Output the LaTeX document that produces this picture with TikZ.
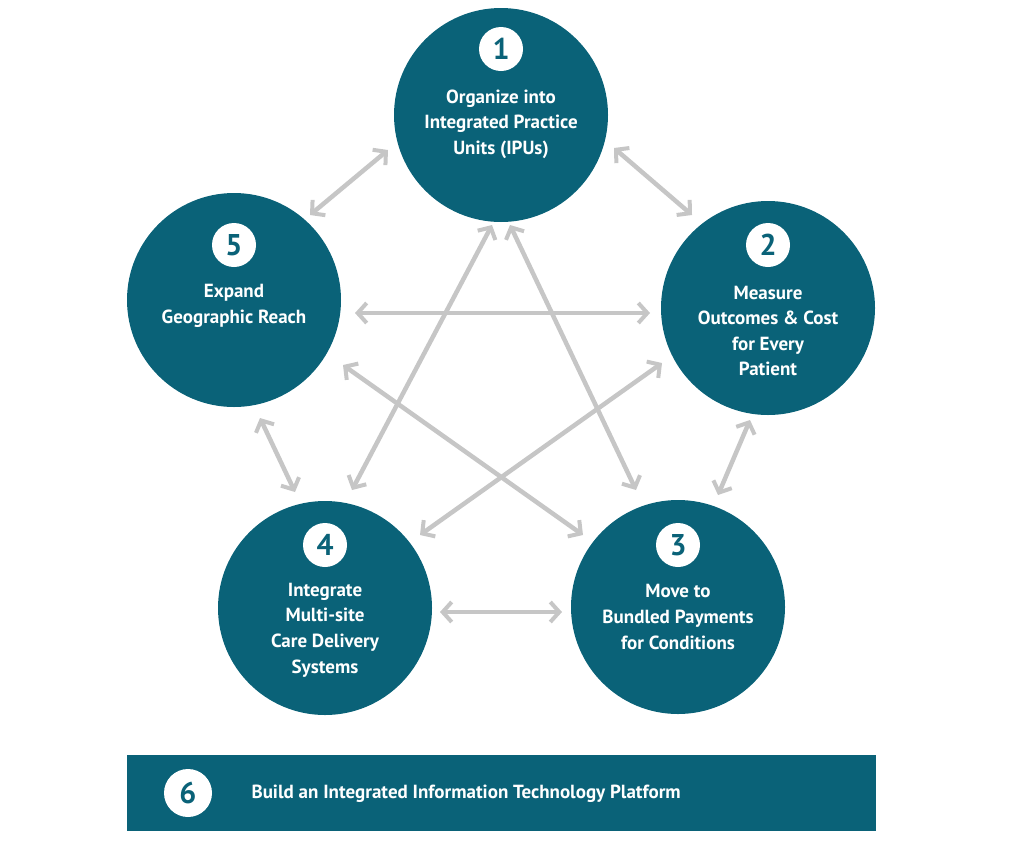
\documentclass[tikz,border=0pt]{standalone}
\usepackage{fontspec}
\setmainfont{PT Sans}
\usetikzlibrary{arrows.meta}
\definecolor{teal}{HTML}{0A6278}
\definecolor{arr}{HTML}{C6C6C6}
\begin{document}
\begin{tikzpicture}[x=1pt,y=-1pt,
  big/.style={circle,fill=teal,minimum size=214pt,inner sep=0pt},
  num/.style={circle,fill=white,text=teal,minimum size=44pt,inner sep=0pt,font=\fontsize{30}{30}\selectfont\bfseries},
  lab/.style={text=white,align=center,font=\fontsize{19}{25.6}\selectfont\bfseries},
  link/.style={draw=arr,line width=4.5pt,{Straight Barb[length=9pt,width=20pt,line width=4pt]}-{Straight Barb[length=9pt,width=20pt,line width=4pt]}}]
\useasboundingbox (0,0) rectangle (1024,841);
\node[big] (c1) at (501,115) {};
\node[big] (c2) at (768,308) {};
\node[big] (c5) at (234,300) {};
\node[big] (c4) at (325,608) {};
\node[big] (c3) at (678,607) {};
\node[num] (n1) at (501,49) {1};
\node[num] (n2) at (768,245) {2};
\node[num] (n5) at (234,245) {5};
\node[num] (n4) at (325,545) {4};
\node[num] (n3) at (678,545) {3};
\node[lab] (t1) at (501,124) {Organize into\\Integrated Practice\\Units (IPUs)};
\node[lab] (t2) at (768,331) {Measure\\Outcomes \& Cost\\for Every\\Patient};
\node[lab] (t5) at (234,306) {Expand\\Geographic Reach};
\node[lab] (t4) at (325,630) {Integrate\\Multi-site\\Care Delivery\\Systems};
\node[lab] (t3) at (678,617) {Move to\\Bundled Payments\\for Conditions};
\node[fill=teal,minimum width=749pt,minimum height=76pt,inner sep=0pt] (bar) at (501.5,793) {};
\node[num,minimum size=48pt] (n6) at (188,793) {6};
\node[text=white,anchor=west,font=\fontsize{19}{22}\selectfont\bfseries] (t6) at (248,794) {Build an Integrated Information Technology Platform};
\coordinate (a1) at (388,150); \coordinate (b1) at (310,215);
\coordinate (a2) at (614,148); \coordinate (b2) at (692,215);
\coordinate (a3) at (355,313); \coordinate (b3) at (650,313);
\coordinate (a4) at (260,418); \coordinate (b4) at (295,492);
\coordinate (a5) at (750,420); \coordinate (b5) at (718,495);
\coordinate (a6) at (440,612); \coordinate (b6) at (562,612);
\coordinate (a7) at (492,225); \coordinate (b7) at (352,490);
\coordinate (a8) at (510,225); \coordinate (b8) at (636,490);
\coordinate (a9) at (343,365); \coordinate (b9) at (583,535);
\coordinate (a10) at (662,363); \coordinate (b10) at (420,535);
\foreach \i in {1,...,10} \draw[link] (a\i) -- (b\i);
\end{tikzpicture}
\end{document}
